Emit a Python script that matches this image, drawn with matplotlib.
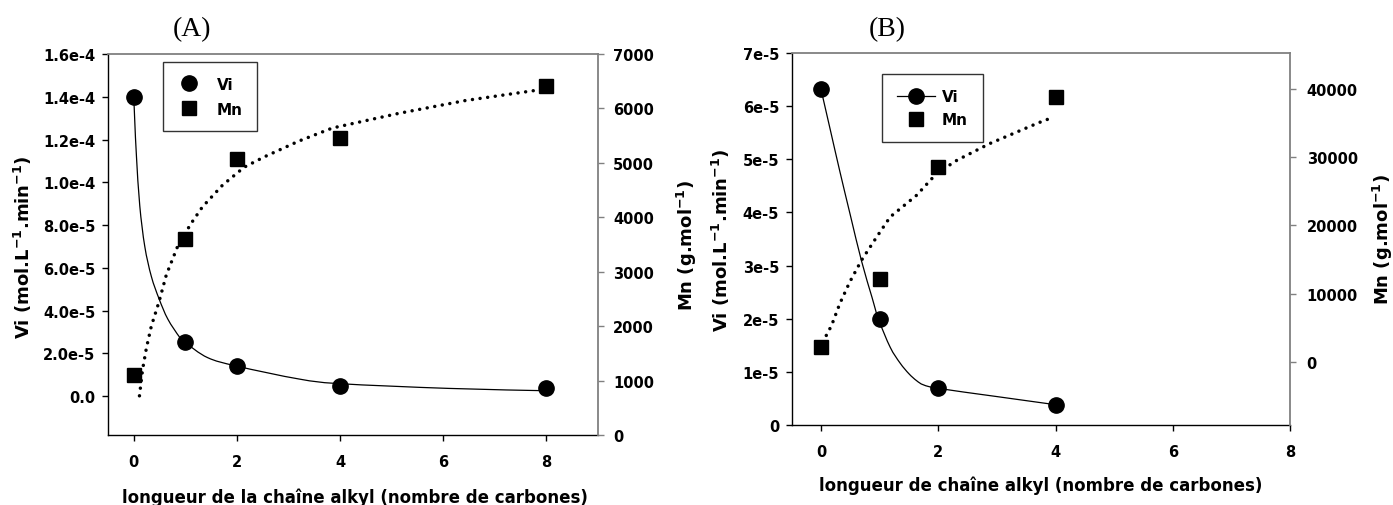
import matplotlib
matplotlib.use("Agg")
import matplotlib.pyplot as plt
from matplotlib.lines import Line2D
from matplotlib.path import Path
from matplotlib.patches import PathPatch
from matplotlib.ticker import FixedLocator, FixedFormatter

plt.rcParams['font.family'] = ['DejaVu Sans']
plt.rcParams['font.weight'] = 'bold'
plt.rcParams['mathtext.fontset'] = 'dejavusans'
plt.rcParams['mathtext.default'] = 'bf'

# ---------------- data: panel A ----------------
x_A = [0, 1, 2, 4, 8]
vi_A = [1.40e-4, 2.52e-5, 1.40e-5, 4.7e-6, 3.9e-6]
mn_A = [1105, 3600, 5070, 5455, 6405]
# fitted curves
vi_fit_A_x = [0, 0.02, 0.052, 0.116, 0.213, 0.34, 0.49, 0.66, 0.89, 1.0, 1.43, 2.0, 3.2, 4.0, 6.1, 8.0]
vi_fit_A_y = [1.40e-4, 1.28e-4, 1.12e-4, 8.9e-5, 7.0e-5, 5.6e-5, 4.55e-5, 3.6e-5, 2.75e-5, 2.5e-5,
              1.8e-5, 1.4e-5, 8.0e-6, 5.8e-6, 3.6e-6, 2.5e-6]
mn_fit_A_x = [0.11, 0.17, 0.245, 0.34, 0.49, 0.63, 0.86, 1.11, 1.33, 1.72, 2.14, 2.53, 3.2, 3.85,
              5.14, 6.43, 7.78, 8.0]
mn_fit_A_y = [720, 1200, 1600, 2000, 2450, 2940, 3490, 3885, 4190, 4590, 4920, 5110, 5400, 5640,
              5910, 6145, 6330, 6360]
vi_ticks_A = [0, 2e-5, 4e-5, 6e-5, 8e-5, 1e-4, 1.2e-4, 1.4e-4, 1.6e-4]
vi_ticklabels_A = ['0.0', '2.0e-5', '4.0e-5', '6.0e-5', '8.0e-5', '1.0e-4', '1.2e-4', '1.4e-4', '1.6e-4']
mn_ticks_A = [0, 1000, 2000, 3000, 4000, 5000, 6000, 7000]
x_ticks = [0, 2, 4, 6, 8]

# ---------------- data: panel B ----------------
x_B = [0, 1, 2, 4]
vi_B = [6.32e-5, 1.99e-5, 6.85e-6, 3.77e-6]
mn_B = [2250, 12100, 28500, 38800]
vi_fit_B_x = [0, 0.16, 0.32, 0.5, 0.69, 0.87, 0.98, 1.18, 1.35, 1.5, 1.63, 1.75, 2.0, 3.0, 4.0]
vi_fit_B_y = [6.32e-5, 5.55e-5, 4.78e-5, 3.95e-5, 3.09e-5, 2.4e-5, 1.99e-5, 1.46e-5, 1.16e-5,
              9.6e-6, 8.3e-6, 7.5e-6, 6.85e-6, 5.3e-6, 3.77e-6]
mn_fit_B_x = [0.09, 0.18, 0.32, 0.49, 0.69, 0.95, 1.18, 1.63, 1.97, 2.32, 2.88, 3.71, 3.98]
mn_fit_B_y = [3900, 5360, 8540, 11710, 14880, 18300, 21230, 24390, 27570, 29520, 31960, 34990, 35870]
vi_ticks_B = [0, 1e-5, 2e-5, 3e-5, 4e-5, 5e-5, 6e-5, 7e-5]
vi_ticklabels_B = ['0', '1e-5', '2e-5', '3e-5', '4e-5', '5e-5', '6e-5', '7e-5']
mn_ticks_B = [0, 10000, 20000, 30000, 40000]

W, H = 1393, 506
fig = plt.figure(figsize=(W / 100, H / 100), dpi=100)

GRAY = '#808080'
TFS = 10.5


def smooth_path(xs, ys):
    """Smooth Bezier path passing through the read curve points."""
    pts = list(zip(xs, ys))
    n = len(pts)
    verts = [pts[0]]
    codes = [Path.MOVETO]
    for i in range(n - 1):
        p0 = pts[i - 1] if i > 0 else pts[i]
        p1 = pts[i]
        p2 = pts[i + 1]
        p3 = pts[i + 2] if i + 2 < n else pts[i + 1]
        c1 = (p1[0] + (p2[0] - p0[0]) / 6, p1[1] + (p2[1] - p0[1]) / 6)
        c2 = (p2[0] - (p3[0] - p1[0]) / 6, p2[1] - (p3[1] - p1[1]) / 6)
        verts += [c1, c2, p2]
        codes += [Path.CURVE4] * 3
    return Path(verts, codes)


def style(ax, ax2, xlim, ylim, y2lim, yt, ytl, y2t, xpad, lpad, rpad):
    ax.set_xlim(*xlim)
    ax.set_ylim(*ylim)
    ax2.set_ylim(*y2lim)
    ax.xaxis.set_major_locator(FixedLocator(x_ticks))
    ax.yaxis.set_major_locator(FixedLocator(yt))
    ax.yaxis.set_major_formatter(FixedFormatter(ytl))
    ax2.yaxis.set_major_locator(FixedLocator(y2t))
    ax2.yaxis.set_major_formatter(FixedFormatter([str(v) for v in y2t]))
    ax.tick_params(axis='x', direction='out', length=4, width=1, pad=xpad, labelsize=TFS)
    ax.tick_params(axis='y', direction='out', length=4, width=1, pad=lpad, labelsize=TFS)
    ax2.tick_params(axis='y', direction='out', length=4, width=1, pad=rpad, labelsize=TFS,
                    color=GRAY)
    for s in ['top', 'right']:
        ax.spines[s].set_visible(False)
    for s in ['left', 'bottom']:
        ax.spines[s].set_linewidth(1.0)
        ax.spines[s].set_color('black')
        ax2.spines[s].set_visible(False)
    ax2.spines['top'].set_color(GRAY)
    ax2.spines['top'].set_linewidth(1.3)
    ax2.spines['right'].set_color(GRAY)
    ax2.spines['right'].set_linewidth(1.3)
    for lab in ax.get_xticklabels() + ax.get_yticklabels() + ax2.get_yticklabels():
        lab.set_fontweight('bold')


dot_style = dict(color='black', linestyle=(0, (0.01, 2.2)), linewidth=2.5,
                 dash_capstyle='round')

# ---------------- panel A ----------------
axA = fig.add_axes([108 / W, 1 - 436 / H, 490 / W, 381 / H])
axA2 = axA.twinx()
axA.add_patch(PathPatch(smooth_path(vi_fit_A_x, vi_fit_A_y), fill=False,
                        edgecolor='black', lw=0.9, transform=axA.transData))
axA.plot(x_A, vi_A, 'o', color='black', ms=11, zorder=5)
axA2.plot(mn_fit_A_x, mn_fit_A_y, **dot_style)
axA2.plot(x_A, mn_A, 's', color='black', ms=10, zorder=5)
style(axA, axA2, (-0.5, 9), (-1.82e-5, 1.6e-4), (0, 7000), vi_ticks_A, vi_ticklabels_A,
      mn_ticks_A, 10, 5, 7)

hA = [Line2D([], [], marker='o', ls='none', color='black', ms=11),
      Line2D([], [], marker='s', ls='none', color='black', ms=10)]
legA = axA2.legend(hA, ['Vi', 'Mn'], loc='upper left',
                   bbox_to_anchor=((162.7 - 108) / 490, (436 - 63.3) / 381),
                   borderaxespad=0, frameon=True, fancybox=False, framealpha=1,
                   edgecolor='#333333', prop={'weight': 'bold', 'size': 11},
                   handlelength=1.6, handletextpad=1.0, borderpad=0.95, labelspacing=0.65)
legA.get_frame().set_linewidth(1.0)

fig.text(23 / W, 1 - 247 / H, r'Vi (mol.L$^{-1}$.min$^{-1}$)', rotation=90,
         ha='center', va='center', fontsize=13, fontweight='bold')
fig.text(687 / W, 1 - 246 / H, r'Mn (g.mol$^{-1}$)', rotation=90,
         ha='center', va='center', fontsize=13, fontweight='bold')
fig.text(355 / W, 1 - 498 / H, 'longueur de la chaîne alkyl (nombre de carbones)',
         ha='center', va='center', fontsize=12, fontweight='bold')
fig.text(192 / W, 1 - 30 / H, '(A)', ha='center', va='center', fontsize=20,
         family='Liberation Serif', fontweight='normal')

# ---------------- panel B ----------------
axB = fig.add_axes([791.7 / W, 1 - 425.7 / H, 498.3 / W, 371.4 / H])
axB2 = axB.twinx()
axB.add_patch(PathPatch(smooth_path(vi_fit_B_x, vi_fit_B_y), fill=False,
                        edgecolor='black', lw=0.9, transform=axB.transData))
axB.plot(x_B, vi_B, 'o', color='black', ms=11, zorder=5)
axB2.plot(mn_fit_B_x, mn_fit_B_y, **dot_style)
axB2.plot(x_B, mn_B, 's', color='black', ms=10, zorder=5)
style(axB, axB2, (-0.5, 8), (0, 7e-5), (-9150, 45150), vi_ticks_B, vi_ticklabels_B,
      mn_ticks_B, 10, 5, 8)

hB = [Line2D([], [], marker='o', ls='-', lw=0.9, color='black', ms=11),
      Line2D([], [], marker='s', ls='none', color='black', ms=10)]
legB = axB2.legend(hB, ['Vi', 'Mn'], loc='upper left',
                   bbox_to_anchor=((881.7 - 791.7) / 498.3, (425.7 - 75) / 371.4),
                   borderaxespad=0, frameon=True, fancybox=False, framealpha=1,
                   edgecolor='#333333', prop={'weight': 'bold', 'size': 11},
                   handlelength=2.5, handletextpad=0.45, borderpad=1.0, labelspacing=0.5)
legB.get_frame().set_linewidth(1.0)

fig.text(721 / W, 1 - 240 / H, r'Vi (mol.L$^{-1}$.min$^{-1}$)', rotation=90,
         ha='center', va='center', fontsize=13, fontweight='bold')
fig.text(1383 / W, 1 - 240 / H, r'Mn (g.mol$^{-1}$)', rotation=90,
         ha='center', va='center', fontsize=13, fontweight='bold')
fig.text(1041 / W, 1 - 486 / H, 'longueur de chaîne alkyl (nombre de carbones)',
         ha='center', va='center', fontsize=12, fontweight='bold')
fig.text(887 / W, 1 - 30 / H, '(B)', ha='center', va='center', fontsize=20,
         family='Liberation Serif', fontweight='normal')

fig.savefig('out.png', dpi=100)
